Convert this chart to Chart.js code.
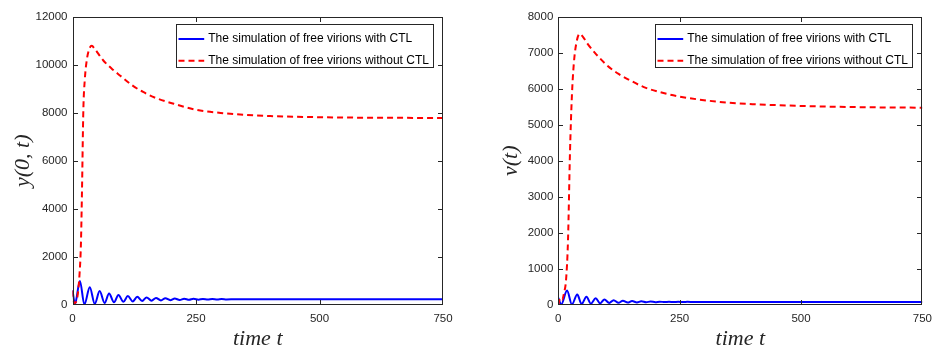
<!DOCTYPE html>
<html>
<head>
<meta charset="utf-8">
<script src="https://cdn.jsdelivr.net/npm/chart.js@4.4.1/dist/chart.umd.min.js"></script>
<style>
  body { margin: 0; background: #fff; }
  canvas { position: absolute; top: 0; }
  #left { left: 0; }
  #right { left: 470px; }
</style>
</head>
<body>
<canvas id="left" width="470" height="347"></canvas>
<canvas id="right" width="469" height="347"></canvas>
<script>
// tick labels
const timeTicks = [0, 250, 500, 750];
const leftYTicks = [0, 2000, 4000, 6000, 8000, 10000, 12000];
const rightYTicks = [0, 1000, 2000, 3000, 4000, 5000, 6000, 7000, 8000];

const seriesLabels = ['The simulation of free virions with CTL', 'The simulation of free virions without CTL'];

// left panel, y(0,t)
const leftTimeWith = [0, 5, 15, 24, 35, 45, 55, 65, 74, 84, 93, 103, 112, 122, 131, 141, 150, 160, 169, 179, 188, 198, 207, 217, 226, 236, 245, 255, 264, 274, 283, 293, 302, 312, 330, 400, 750];
const leftWithCTL = [620, 40, 1000, 20, 740, 50, 580, 80, 480, 110, 420, 130, 370, 150, 340, 165, 315, 180, 295, 192, 282, 202, 270, 210, 262, 216, 256, 220, 252, 224, 248, 228, 245, 230, 238, 238, 238];
const leftTimeWithout = [0, 3, 7, 10, 12, 14, 17, 19, 22, 25, 29, 34, 39, 45, 62, 80, 96, 120, 143, 170, 205, 250, 300, 350, 400, 500, 600, 750];
const leftWithoutCTL = [600, 80, 120, 350, 700, 1200, 2500, 4500, 8150, 9400, 10200, 10650, 10780, 10650, 10180, 9820, 9550, 9150, 8860, 8600, 8370, 8120, 7990, 7910, 7860, 7810, 7790, 7780];

// right panel, v(t)
const rightTimeWith = [0, 6, 18, 28, 39, 48, 58, 67, 77, 86, 95, 105, 114, 124, 133, 143, 152, 162, 171, 181, 190, 200, 209, 219, 228, 238, 247, 257, 266, 280, 300, 350, 750];
const rightWithCTL = [200, 10, 400, 15, 290, 25, 230, 35, 185, 45, 155, 55, 135, 62, 120, 68, 110, 72, 102, 75, 97, 78, 93, 80, 90, 82, 88, 83, 87, 84, 85, 85, 85];
const rightTimeWithout = [0, 4, 8, 12, 16, 20, 24, 28, 32, 37, 44, 50, 60, 75, 100, 125, 145, 175, 210, 250, 300, 350, 400, 500, 600, 750];
const rightWithoutCTL = [0, 200, 150, 350, 700, 1800, 4200, 5800, 6700, 7250, 7520, 7450, 7250, 7000, 6650, 6400, 6250, 6050, 5900, 5780, 5680, 5610, 5570, 5520, 5490, 5470];

const INK = '#262626';
const tickFont = { family: '"Liberation Sans", Arial, sans-serif', size: 11.5 };
const titleFont = { family: '"Liberation Serif", "Times New Roman", serif', style: 'italic', size: 22, lineHeight: 1 };

const zip = (xs, ys) => xs.map((x, i) => ({ x: x, y: ys[i] }));

// box frame with inward ticks, like the matlab axes
const frame = {
  id: 'frame',
  afterDraw(chart) {
    const { ctx, chartArea: a, scales } = chart;
    const L = Math.round(a.left) + 0.5, R = Math.round(a.right) - 0.5;
    const T = Math.round(a.top) + 0.5, B = Math.round(a.bottom) - 0.5;
    ctx.save();
    ctx.strokeStyle = INK;
    ctx.lineWidth = 1;
    ctx.strokeRect(L, T, R - L, B - T);
    ctx.beginPath();
    scales.x.ticks.forEach(t => {
      const px = Math.round(scales.x.getPixelForValue(t.value)) + 0.5;
      if (px <= L + 1 || px >= R - 1) return;
      ctx.moveTo(px, B); ctx.lineTo(px, B - 4.5);
      ctx.moveTo(px, T); ctx.lineTo(px, T + 4.5);
    });
    scales.y.ticks.forEach(t => {
      const py = Math.round(scales.y.getPixelForValue(t.value)) + 0.5;
      if (py <= T + 1 || py >= B - 1) return;
      ctx.moveTo(L, py); ctx.lineTo(L + 4.5, py);
      ctx.moveTo(R, py); ctx.lineTo(R - 4.5, py);
    });
    ctx.stroke();
    ctx.restore();
  }
};

const boxLegend = {
  id: 'boxLegend',
  afterDatasetsDraw(chart) {
    const { ctx, chartArea: a } = chart;
    const sets = chart.data.datasets;
    ctx.save();
    ctx.font = '12px "Liberation Sans", Arial, sans-serif';
    const textW = Math.max(...sets.map(d => ctx.measureText(d.label).width));
    const w = Math.round(31.7 + textW + 5);
    const h = 43;
    const x = Math.round(a.right - 10.5 - w) + 0.5;
    const y = Math.round(a.top + 7.5) + 0.5;
    ctx.fillStyle = '#fff';
    ctx.fillRect(x, y, w, h);
    ctx.strokeStyle = INK;
    ctx.lineWidth = 1;
    ctx.strokeRect(x, y, w, h);
    sets.forEach((d, i) => {
      const cy = y + 14.5 + i * 21.7;
      ctx.beginPath();
      ctx.strokeStyle = d.borderColor;
      ctx.lineWidth = 2;
      ctx.setLineDash(d.borderDash || []);
      ctx.moveTo(x + 2, cy);
      ctx.lineTo(x + 27.7, cy);
      ctx.stroke();
      ctx.setLineDash([]);
      ctx.fillStyle = '#000';
      ctx.textBaseline = 'middle';
      ctx.fillText(d.label, x + 31.7, cy);
    });
    ctx.restore();
  }
};

function makeChart(id, cfg) {
  const canvas = document.getElementById(id);
  return new Chart(canvas, {
    type: 'line',
    data: {
      datasets: [{
        label: seriesLabels[0],
        data: zip(cfg.tWith, cfg.with),
        borderColor: '#0000ff',
        borderWidth: 2,
        cubicInterpolationMode: 'monotone',
        pointRadius: 0,
        order: 1
      }, {
        label: seriesLabels[1],
        data: zip(cfg.tWithout, cfg.without),
        borderColor: '#ff0000',
        borderWidth: 2,
        borderDash: [6, 4],
        cubicInterpolationMode: 'monotone',
        pointRadius: 0,
        order: 0
      }]
    },
    options: {
      responsive: false,
      animation: false,
      devicePixelRatio: 1,
      layout: { padding: { left: 0, top: 16.5, right: canvas.width - cfg.areaRight, bottom: 0 } },
      plugins: { legend: { display: false }, tooltip: { enabled: false } },
      scales: {
        x: {
          type: 'linear',
          min: 0,
          max: 750,
          grid: { display: false, drawTicks: false },
          border: { display: false },
          ticks: { color: INK, font: tickFont, padding: 7, maxRotation: 0, callback: v => String(v) },
          afterBuildTicks: s => { s.ticks = timeTicks.map(v => ({ value: v })); },
          afterFit: s => { s.height = 347 - 305; },
          title: { display: true, text: 'time t', color: INK, font: titleFont, padding: { top: 0, bottom: -3 } }
        },
        y: {
          min: 0,
          max: cfg.yMax,
          grid: { display: false, drawTicks: false },
          border: { display: false },
          ticks: { color: INK, font: tickFont, padding: 5, callback: v => String(v) },
          afterBuildTicks: s => { s.ticks = cfg.yTicks.map(v => ({ value: v })); },
          afterFit: s => { s.width = cfg.areaLeft; },
          title: { display: true, text: cfg.yTitle, color: INK, font: titleFont, padding: { top: cfg.yTitlePad, bottom: 0 } }
        }
      }
    },
    plugins: [frame, boxLegend]
  });
}

makeChart('left', {
  tWith: leftTimeWith, with: leftWithCTL,
  tWithout: leftTimeWithout, without: leftWithoutCTL,
  yMax: 12000, yTicks: leftYTicks, yTitle: 'y(0, t)',
  areaLeft: 72.5, areaRight: 443, yTitlePad: 12
});

makeChart('right', {
  tWith: rightTimeWith, with: rightWithCTL,
  tWithout: rightTimeWithout, without: rightWithoutCTL,
  yMax: 8000, yTicks: rightYTicks, yTitle: 'v(t)',
  areaLeft: 88.3, areaRight: 460.7, yTitlePad: 30
});
</script>
</body>
</html>
